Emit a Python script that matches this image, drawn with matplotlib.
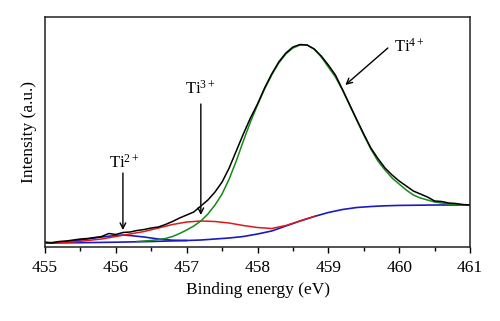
import matplotlib
matplotlib.use("Agg")
import matplotlib.pyplot as plt
from matplotlib.ticker import MultipleLocator

plt.rcParams['font.family'] = ['Liberation Serif', 'DejaVu Serif']
plt.rcParams['mathtext.fontset'] = 'custom'
plt.rcParams['mathtext.rm'] = 'Liberation Serif'
plt.rcParams['mathtext.it'] = 'Liberation Serif'

# measured spectrum (binding energy in eV, intensity in a.u.)
e_meas = [455.0, 455.1, 455.2, 455.3, 455.4, 455.5, 455.6, 455.7, 455.8, 455.9,
          456.0, 456.1, 456.2, 456.3, 456.4, 456.5, 456.6, 456.7, 456.8, 456.9,
          457.0, 457.1, 457.2, 457.3, 457.4, 457.5, 457.6, 457.7, 457.8, 457.9,
          458.0, 458.1, 458.2, 458.3, 458.4, 458.5, 458.6, 458.7, 458.8, 458.9,
          459.0, 459.1, 459.2, 459.3, 459.4, 459.5, 459.6, 459.7, 459.8, 459.9,
          460.0, 460.1, 460.2, 460.3, 460.4, 460.5, 460.6, 460.7, 460.8, 460.9,
          461.0]
i_meas = [5, 4, 5.5, 6, 7, 8, 8.5, 9.5, 10.5, 13.5,
          12.5, 14.5, 15, 16.5, 17.5, 19, 20, 22.5, 25.5, 29,
          32, 35, 41, 47, 55, 65, 79, 96, 113, 129,
          143, 159, 173, 185, 194, 200, 202.5, 202, 198, 191,
          182, 172, 157.5, 142.5, 127.5, 113, 99, 88.5, 79, 72,
          66, 61, 56, 53, 50, 46, 45.5, 44, 43.5, 42.5,
          42]

# Ti4+ component
e_ti4 = [456.3, 456.5, 456.6, 456.7, 456.8, 456.9, 457.0, 457.1, 457.2, 457.3,
         457.4, 457.5, 457.6, 457.7, 457.8, 457.9, 458.0, 458.1, 458.2, 458.3,
         458.4, 458.5, 458.6, 458.7, 458.8, 458.9, 459.0, 459.1, 459.2, 459.3,
         459.4, 459.5, 459.6, 459.7, 459.8, 459.9, 460.0, 460.1, 460.2, 460.3,
         460.4, 460.5, 460.6, 460.7, 460.8, 460.9, 461.0]
i_ti4 = [5.5, 6.5, 7.5, 8.5, 10.5, 13.5, 17, 21, 26, 33,
         42, 53, 68, 86, 106, 125, 142, 158, 172, 184,
         193, 199, 202, 202, 198, 190, 180, 170, 157, 142,
         127, 112, 98, 86, 77, 69, 63, 57, 52, 49,
         47, 45, 44, 43, 42.5, 42, 42]

# Ti3+ component
e_ti3 = [455.0, 455.4, 455.6, 455.8, 456.0, 456.2, 456.4, 456.6, 456.8, 457.0,
         457.2, 457.4, 457.6, 457.8, 458.0, 458.2, 458.4, 458.6, 458.8]
i_ti3 = [4, 5, 6.5, 8, 10.5, 13, 15.5, 19, 22.5, 25,
         26, 25.5, 24, 21.5, 19.5, 18.5, 21.5, 26, 30.5]

# Ti2+ component
e_ti2 = [455.0, 455.2, 455.4, 455.6, 455.8, 456.0, 456.1, 456.2, 456.4, 456.6,
         456.8, 457.0]
i_ti2 = [4, 5, 6, 8, 10, 11.5, 12, 11.5, 10, 8,
         6.8, 6.5]

# background
e_bg = [455.0, 455.5, 456.0, 456.5, 457.0, 457.2, 457.4, 457.6, 457.8, 458.0,
        458.2, 458.4, 458.6, 458.8, 459.0, 459.2, 459.4, 459.6, 459.8, 460.0,
        460.5, 461.0]
i_bg = [4, 4.3, 4.8, 5.5, 6.5, 7, 8, 9, 10.5, 13,
        16, 21, 26, 30.5, 34.5, 37.5, 39.5, 40.5, 41.2, 41.6,
        42, 42]

fig = plt.figure(figsize=(5.0, 3.21), dpi=100)
ax = fig.add_axes([0.09, 0.2305, 0.85, 0.7165])

ax.plot(e_bg, i_bg, color='#1a1ac0', lw=1.2)
ax.plot(e_ti2, i_ti2, color='#1a1ac0', lw=1.2)
ax.plot(e_ti3, i_ti3, color='#e01818', lw=1.1)
ax.plot(e_ti4, i_ti4, color='#168a16', lw=1.1)
ax.plot(e_meas, i_meas, color='black', lw=1.1)

ax.set_xlim(455, 461)
ax.set_ylim(0, 230)
ax.xaxis.set_major_locator(MultipleLocator(1))
ax.xaxis.set_minor_locator(MultipleLocator(0.5))
ax.set_yticks([])
ax.tick_params(axis='x', which='major', direction='out', length=4, width=1, labelsize=12.5, pad=5)
ax.tick_params(axis='x', which='minor', direction='out', length=3, width=1)
for s in ax.spines.values():
    s.set_linewidth(1.1)
    s.set_color('#222222')

ax.set_xlabel('Binding energy (eV)', fontsize=12.5, labelpad=5)
ax.set_ylabel('Intensity (a.u.)', fontsize=12.5, labelpad=6)

arrow = dict(arrowstyle='->', color='black', lw=1.0, shrinkA=0, shrinkB=0)
ax.annotate('', xy=(456.1, 17), xytext=(456.1, 74), arrowprops=arrow)
ax.annotate('', xy=(457.2, 32), xytext=(457.2, 143), arrowprops=arrow)
ax.annotate('', xy=(459.24, 162), xytext=(459.84, 199), arrowprops=arrow)

ax.text(455.9, 79, r'Ti$^{2+}$', fontsize=12, va='baseline', ha='left')
ax.text(456.97, 153, r'Ti$^{3+}$', fontsize=12, va='baseline', ha='left')
ax.text(459.92, 195, r'Ti$^{4+}$', fontsize=12, va='baseline', ha='left')

fig.savefig('out.png', dpi=100)
